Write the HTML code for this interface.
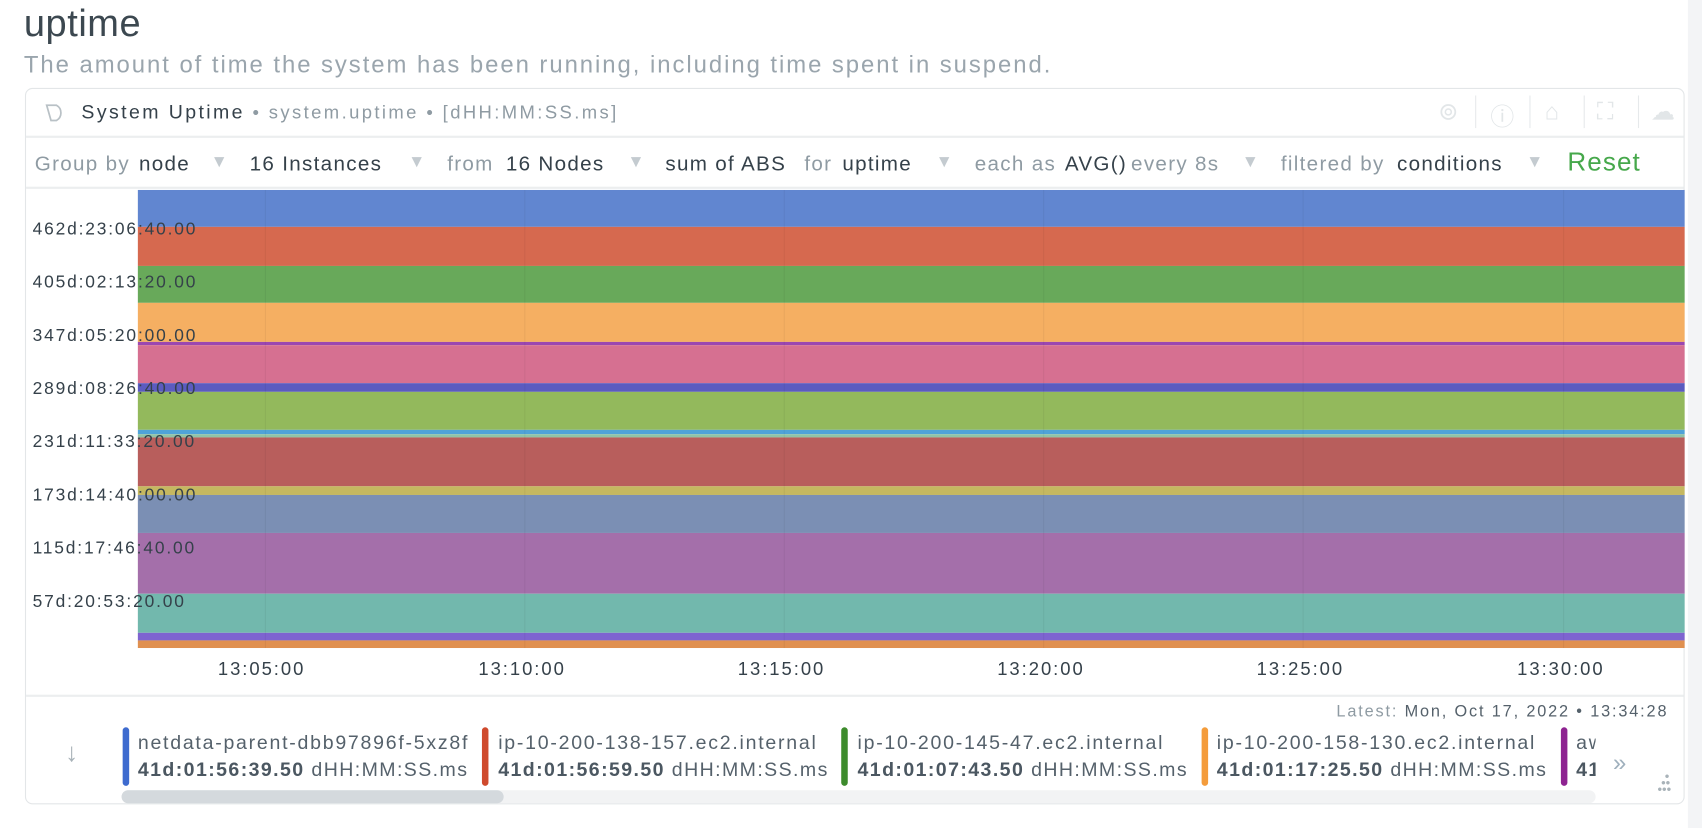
<!DOCTYPE html>
<html><head><meta charset="utf-8"><style>
html,body{margin:0;padding:0;background:#fff;overflow:hidden;width:1702px;height:828px}
#w{position:absolute;left:0;top:0;width:1568px;height:763px;transform:scale(1.08546);transform-origin:0 0;font-family:"Liberation Sans",sans-serif;color:#35414a}
.a{position:absolute;white-space:nowrap}
.g{color:#8f9ba3}
.b{position:absolute;left:127px;width:1425px}
.yl{position:absolute;left:30px;font-size:16px;color:#35414a;letter-spacing:1.7px}
.xl{position:absolute;top:607px;font-size:17px;width:120px;text-align:center;margin-left:-60px;letter-spacing:1.8px}
.vg{position:absolute;top:175px;height:422px;width:1px;background:rgba(0,0,0,0.05)}
.lb{position:absolute;top:670px;width:6px;height:54px;border-radius:3px}
.ln{position:absolute;top:674px;font-size:18px;color:#55616b;white-space:nowrap;overflow:hidden;letter-spacing:1.6px}
.lv{position:absolute;top:699px;font-size:18px;color:#55616b;white-space:nowrap;overflow:hidden;letter-spacing:1.3px}
.lv b{color:#4b5761}
.c{position:absolute;top:141px;font-size:19px;letter-spacing:1.2px;white-space:nowrap}
.ch{position:absolute;top:141px;font-size:16px;color:#c4cbd0}
</style></head><body><div id="w">
<div class="a" style="left:22px;top:2px;font-size:35px;color:#3c4850;letter-spacing:0.5px">uptime</div>
<div class="a" style="left:22px;top:47px;font-size:22px;color:#9aa5ad;letter-spacing:1.8px">The amount of time the system has been running, including time spent in suspend.</div>
<div class="a" style="left:1555px;top:0;width:13px;height:763px;background:#f3f4f6"></div>
<div class="a" style="left:23px;top:81px;width:1527px;height:658px;border:1px solid #e3e6e8;border-radius:7px"></div>
<svg class="a" style="left:40px;top:94px" width="24" height="20"><path d="M3 3 H12 A8 8 0 0 1 12 17 H7 Z" fill="none" stroke="#b9c1c6" stroke-width="1.6"/></svg>
<div class="a" style="left:75px;top:93px;font-size:18px;letter-spacing:2.2px"><span style="color:#35414a">System Uptime</span><span class="g" style="font-size:17px"> • system.uptime • [dHH:MM:SS.ms]</span></div>
<div class="a" style="left:1325px;top:90px;font-size:22px;color:#e2e6e8;letter-spacing:0">
<span style="position:absolute;left:0">⊚</span><span style="position:absolute;left:34px;top:-2px;width:1px;height:30px;background:#e6e9eb"></span>
<span style="position:absolute;left:48px">ⓘ</span><span style="position:absolute;left:84px;top:-2px;width:1px;height:30px;background:#e6e9eb"></span>
<span style="position:absolute;left:98px">⌂</span><span style="position:absolute;left:134px;top:-2px;width:1px;height:30px;background:#e6e9eb"></span>
<span style="position:absolute;left:146px">⛶</span><span style="position:absolute;left:184px;top:-2px;width:1px;height:30px;background:#e6e9eb"></span>
<span style="position:absolute;left:196px">☁</span></div>
<div class="a" style="left:24px;top:125px;width:1527px;height:2px;background:#eceeef"></div>
<span class="c g" style="left:32px">Group by</span><span class="c" style="left:128px">node</span><span class="ch" style="left:194px">▼</span>
<span class="c" style="left:230px">16 Instances</span><span class="ch" style="left:376px">▼</span>
<span class="c g" style="left:412px">from</span><span class="c" style="left:466px">16 Nodes</span><span class="ch" style="left:578px">▼</span>
<span class="c" style="left:613px">sum of ABS</span><span class="c g" style="left:741px">for</span><span class="c" style="left:776px">uptime</span><span class="ch" style="left:862px">▼</span>
<span class="c g" style="left:898px">each as</span><span class="c" style="left:981px">AVG()</span><span class="c g" style="left:1042px">every 8s</span><span class="ch" style="left:1144px">▼</span>
<span class="c g" style="left:1180px">filtered by</span><span class="c" style="left:1287px">conditions</span><span class="ch" style="left:1406px">▼</span>
<div class="a" style="left:1444px;top:136px;font-size:24px;color:#46a84b;letter-spacing:1px">Reset</div>
<div class="a" style="left:24px;top:172px;width:1527px;height:2px;background:#eceeef"></div>
<div class="b" style="top:175px;height:34px;background:#6186d0"></div>
<div class="b" style="top:209px;height:36px;background:#d6694f"></div>
<div class="b" style="top:245px;height:34px;background:#68a95a"></div>
<div class="b" style="top:279px;height:36px;background:#f5af62"></div>
<div class="b" style="top:315px;height:3px;background:#9b47b0"></div>
<div class="b" style="top:318px;height:35px;background:#d67091"></div>
<div class="b" style="top:353px;height:8px;background:#5b5bc0"></div>
<div class="b" style="top:361px;height:35px;background:#93b95c"></div>
<div class="b" style="top:396px;height:4px;background:#4fa3d8"></div>
<div class="b" style="top:400px;height:3px;background:#8fc3a8"></div>
<div class="b" style="top:403px;height:45px;background:#b85e5c"></div>
<div class="b" style="top:448px;height:8px;background:#c5b860"></div>
<div class="b" style="top:456px;height:35px;background:#7b8fb4"></div>
<div class="b" style="top:491px;height:56px;background:#a46faa"></div>
<div class="b" style="top:547px;height:36px;background:#72b8ad"></div>
<div class="b" style="top:583px;height:7px;background:#7e64d0"></div>
<div class="b" style="top:590px;height:7px;background:#e09050"></div>
<div class="vg" style="left:244px"></div><div class="vg" style="left:483px"></div><div class="vg" style="left:722px"></div><div class="vg" style="left:961px"></div><div class="vg" style="left:1200px"></div><div class="vg" style="left:1440px"></div>
<div class="yl" style="top:203px">462d:23:06:40.00</div>
<div class="yl" style="top:252px">405d:02:13:20.00</div>
<div class="yl" style="top:301px">347d:05:20:00.00</div>
<div class="yl" style="top:350px">289d:08:26:40.00</div>
<div class="yl" style="top:399px">231d:11:33:20.00</div>
<div class="yl" style="top:448px">173d:14:40:00.00</div>
<div class="yl" style="top:497px">115d:17:46:40.00</div>
<div class="yl" style="top:546px">57d:20:53:20.00</div>
<div class="xl" style="left:241px">13:05:00</div><div class="xl" style="left:481px">13:10:00</div><div class="xl" style="left:720px">13:15:00</div><div class="xl" style="left:959px">13:20:00</div><div class="xl" style="left:1198px">13:25:00</div><div class="xl" style="left:1438px">13:30:00</div>
<div class="a" style="left:24px;top:640px;width:1527px;height:2px;background:#eceeef"></div>
<div class="a" style="right:31px;top:647px;font-size:15px;color:#55616b;letter-spacing:1.7px"><span style="color:#8f9ba3">Latest:</span> Mon, Oct 17, 2022 • 13:34:28</div>
<div class="a" style="left:60px;top:680px;font-size:24px;color:#a9b3b9">↓</div>
<div class="lb" style="left:113px;background:#3e6bcf"></div>
<div class="ln" style="left:127px;width:310px">netdata-parent-dbb97896f-5xz8f</div>
<div class="lv" style="left:127px;width:312px"><b>41d:01:56:39.50</b> dHH:MM:SS.ms</div>
<div class="lb" style="left:444px;background:#cf4a2d"></div>
<div class="ln" style="left:459px;width:310px">ip-10-200-138-157.ec2.internal</div>
<div class="lv" style="left:459px;width:310px"><b>41d:01:56:59.50</b> dHH:MM:SS.ms</div>
<div class="lb" style="left:775px;background:#3d8b2c"></div>
<div class="ln" style="left:790px;width:310px">ip-10-200-145-47.ec2.internal</div>
<div class="lv" style="left:790px;width:312px"><b>41d:01:07:43.50</b> dHH:MM:SS.ms</div>
<div class="lb" style="left:1107px;background:#f49c3b"></div>
<div class="ln" style="left:1121px;width:305px">ip-10-200-158-130.ec2.internal</div>
<div class="lv" style="left:1121px;width:312px"><b>41d:01:17:25.50</b> dHH:MM:SS.ms</div>
<div class="lb" style="left:1438px;background:#8e2391"></div>
<div class="ln" style="left:1452px;width:18px">aws</div>
<div class="lv" style="left:1452px;width:18px"><b>41d</b></div>
<div class="a" style="left:1486px;top:690px;font-size:22px;color:#9fb0bd">»</div>
<div class="a" style="left:1527px;top:712px;font-size:12px;color:#a9b3b9;line-height:6px">&nbsp;&nbsp;•<br>&nbsp;••<br>•••</div>
<div class="a" style="left:112px;top:728px;width:1358px;height:12px;border-radius:6px;background:#f2f3f4"></div>
<div class="a" style="left:112px;top:728px;width:352px;height:12px;border-radius:6px;background:#d4d9dd"></div>
</div></body></html>
